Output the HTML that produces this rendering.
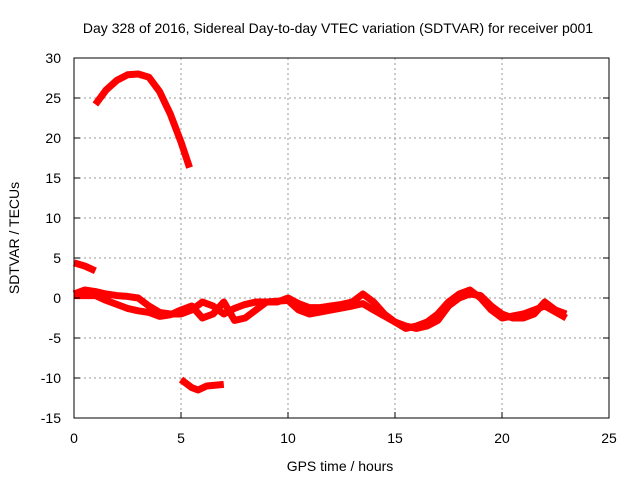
<!DOCTYPE html>
<html><head><meta charset="utf-8"><style>
body{margin:0;background:#fff}
svg text{font-family:"Liberation Sans",sans-serif;font-size:14px;fill:#000}
</style></head><body>
<svg id="chart" width="640" height="480" xmlns="http://www.w3.org/2000/svg">
<text x="338" y="33" text-anchor="middle">Day 328 of 2016, Sidereal Day-to-day VTEC variation (SDTVAR) for receiver p001</text>
<g id="grid"></g>
<g id="series"></g>
<rect x="74" y="58" width="535" height="360" fill="none" stroke="#000" stroke-width="1"/>
<g id="ticks"></g>
<text x="340" y="471" text-anchor="middle">GPS time / hours</text>
<text transform="translate(19,238) rotate(-90)" text-anchor="middle">SDTVAR / TECUs</text>
</svg>
<script>
const xTicks=[0,5,10,15,20,25];
const yTicks=[30,25,20,15,10,5,0,-5,-10,-15];
const arcX=[1.0,1.5,2,2.5,3,3.5,4,4.5,5,5.4];
const arcY=[24.2,26,27.2,27.9,28,27.6,25.8,23,19.5,16.3];
const shortX=[0,0.5,1];
const shortY=[4.4,4,3.4];
const lowX=[5,5.5,5.8,6.2,7];
const lowY=[-10.2,-11.2,-11.5,-11,-10.8];
const s1X=[0,0.5,1,1.5,2,2.5,3,3.5,4,4.5,5,5.5,6,6.5,7,7.5,8,8.5,9,9.5,10,10.5,11,11.5,12,12.5,13,13.5,14,14.5,15,15.5,16,16.5,17,17.5,18,18.5,19,19.5,20,20.5,21,21.5,22,22.5,23];
const s1Y=[0.5,1,0.8,0.5,0.3,0.2,0,-1,-1.8,-2,-2,-1.5,-0.5,-1,-2,-1.3,-0.8,-0.5,-0.5,-0.5,0,-0.7,-1.2,-1.2,-1,-0.8,-0.5,0.5,-0.5,-2,-3,-3.5,-3.8,-3.5,-2.8,-1,0,0.5,0.3,-1,-2,-2.5,-2.5,-2,-0.5,-1.5,-2];
const s2X=[0,1,1.5,2,2.5,3,3.5,4,4.5,5,5.5,6,6.5,7,7.5,8,8.5,9,10,10.5,11,12,13,13.5,14,15,15.5,16,16.5,17,17.5,18,18.5,19,19.5,20,21,22,23];
const s2Y=[0.3,0.3,-0.3,-0.8,-1.3,-1.6,-1.8,-2.3,-2.1,-1.5,-1,-2.5,-2,-0.5,-2.8,-2.5,-1.5,-0.5,-0.3,-1.5,-2,-1.5,-1,-0.7,-1.5,-3,-3.8,-3.5,-3,-2,-0.5,0.5,1,0,-1.5,-2.5,-2,-1,-2.5];
const X=v=>74+v*21.4;
const Y=v=>298-v*8;
const NS="http://www.w3.org/2000/svg";
const grid=document.getElementById('grid'),ticks=document.getElementById('ticks'),ser=document.getElementById('series');
function mk(tag,attrs,parent){const e=document.createElementNS(NS,tag);for(const k in attrs)e.setAttribute(k,attrs[k]);parent.appendChild(e);return e;}
xTicks.forEach(t=>{
 if(t>0&&t<25){const g=mk('line',{x1:X(t),x2:X(t),y1:58,y2:418,stroke:'#999','stroke-dasharray':'2,3'},grid);
 
 }
 const tk=mk('line',{x1:X(t),x2:X(t),y1:418,y2:412,stroke:'#000'},ticks);
 
 
 const tx=mk('text',{x:X(t),y:443,'text-anchor':'middle'},ticks);tx.textContent=t;
 
 
});
yTicks.forEach(t=>{
 if(t<30&&t>-15){const g=mk('line',{x1:74,x2:609,y1:Y(t),y2:Y(t),stroke:'#999','stroke-dasharray':'2,3'},grid);
 
 }
 const tk=mk('line',{x1:74,x2:80,y1:Y(t),y2:Y(t),stroke:'#000'},ticks);
 
 
 const tk2=mk('line',{x1:603,x2:609,y1:Y(t),y2:Y(t),stroke:'#000'},ticks);
 
 
 const tx=mk('text',{x:61,y:Y(t)+5,'text-anchor':'end'},ticks);tx.textContent=t;
 
 
});
function line(xs,ys,name){
 const p=mk('polyline',{points:xs.map((x,i)=>X(x)+','+Y(ys[i])).join(' '),fill:'none',stroke:'#f00','stroke-width':7,'stroke-linejoin':'round'},ser);
 
 
}
line(arcX,arcY,'series-arc');
line(shortX,shortY,'series-short');
line(lowX,lowY,'series-low');
line(s1X,s1Y,'series-main-1');
line(s2X,s2Y,'series-main-2');
</script>
</body></html>
